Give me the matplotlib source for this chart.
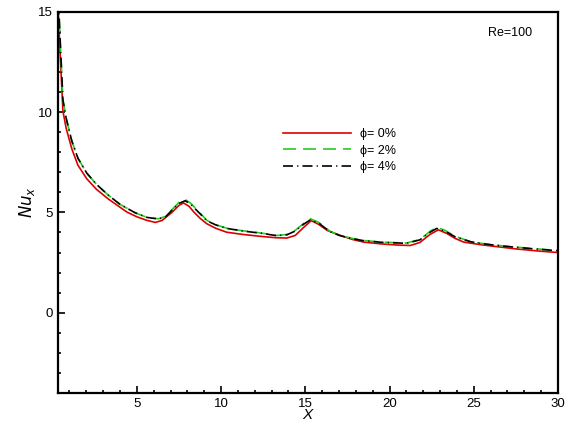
import matplotlib.pyplot as plt
from matplotlib.ticker import MultipleLocator

plt.rcParams['font.family'] = ['Liberation Sans', 'DejaVu Sans']

# values
x0 = [0.33, 0.45, 0.61, 0.8, 1.14, 1.5, 2.03, 2.6, 3.3, 4.4, 5.0, 5.6, 6.1, 6.5, 7.08,
      7.5, 7.77, 8.1, 8.4, 8.76, 9.16, 9.7, 10.34, 11.3, 12.3, 13.2, 13.9, 14.4, 14.9,
      15.35, 15.8, 16.3, 17.07, 17.8, 18.46, 19.5, 20.5, 21.23, 21.8, 22.4, 22.9, 23.4,
      23.9, 24.4, 25.5, 26.5, 27.5, 28.9, 30.0]
nu0 = [15.0, 12.8, 10.05, 9.2, 8.16, 7.35, 6.67, 6.15, 5.67, 5.02, 4.78, 4.6, 4.5, 4.6, 5.0,
       5.35, 5.47, 5.3, 5.0, 4.7, 4.43, 4.2, 4.01, 3.9, 3.81, 3.74, 3.72, 3.85, 4.25,
       4.59, 4.4, 4.1, 3.85, 3.65, 3.52, 3.43, 3.37, 3.35, 3.5, 3.9, 4.13, 3.95,
       3.7, 3.52, 3.38, 3.28, 3.18, 3.07, 3.0]

x2 = [0.33, 0.45, 0.61, 0.8, 1.14, 1.5, 2.03, 2.6, 3.3, 4.0, 4.9, 5.6, 6.28, 6.7, 7.1,
      7.5, 7.87, 8.2, 8.6, 9.16, 9.7, 10.34, 11.3, 12.3, 13.3, 13.9, 14.4, 14.9, 15.3,
      15.8, 16.48, 17.07, 17.8, 18.46, 19.5, 21.0, 21.8, 22.4, 22.8, 23.3, 23.9, 24.8,
      25.5, 26.5, 27.5, 28.75, 30.0]
nu2 = [15.8, 13.5, 10.6, 9.7, 8.55, 7.7, 6.95, 6.4, 5.86, 5.4, 4.98, 4.75, 4.68, 4.8, 5.15,
       5.5, 5.64, 5.45, 5.1, 4.6, 4.38, 4.21, 4.08, 3.98, 3.85, 3.9, 4.1, 4.45, 4.68,
       4.5, 4.05, 3.85, 3.7, 3.6, 3.52, 3.47, 3.65, 4.05, 4.26, 4.1, 3.8, 3.55,
       3.45, 3.35, 3.27, 3.18, 3.1]

x4 = x2
nu4 = [15.8, 13.5, 10.6, 9.7, 8.55, 7.7, 6.95, 6.4, 5.86, 5.4, 4.98, 4.75, 4.67, 4.78, 5.12,
       5.45, 5.58, 5.4, 5.06, 4.58, 4.37, 4.2, 4.07, 3.97, 3.84, 3.88, 4.07, 4.41, 4.63,
       4.46, 4.03, 3.84, 3.69, 3.59, 3.51, 3.46, 3.63, 4.01, 4.2, 4.06, 3.78, 3.54,
       3.44, 3.34, 3.26, 3.17, 3.09]

fig = plt.figure(figsize=(5.69, 4.21), dpi=100)
ax = fig.add_axes([57.7/569, 1-393/421, (558-57.7)/569, (393-11.7)/421])

ax.plot(x0, nu0, color='#dd0000', lw=1.2, label='\u03d5= 0%')
ax.plot(x2, nu2, color='#22cc22', lw=1.2, ls=(0, (7.8, 4.2)), label='\u03d5= 2%')
ax.plot(x4, nu4, color='black', lw=1.2, ls=(0, (6, 2.5, 0.7, 2.5)), label='\u03d5= 4%')

ax.set_xlim(0.3, 30)
ax.set_ylim(-4, 15)
ax.xaxis.set_major_locator(MultipleLocator(5))
ax.xaxis.set_minor_locator(MultipleLocator(1))
ax.yaxis.set_major_locator(MultipleLocator(5))
ax.yaxis.set_minor_locator(MultipleLocator(1))
ax.tick_params(which='both', direction='in', top=False, right=False, labelsize=9.5, width=1.2)
ax.tick_params(which='major', length=5)
ax.tick_params(which='minor', length=2.5)
for s in ax.spines.values():
    s.set_linewidth(1.6)

ax.set_xlabel('X', style='italic', fontsize=11, labelpad=-1)
ax.set_ylabel('$Nu_x$', fontsize=12, labelpad=1)
ax.text(0.904, 0.944, 'Re=100', fontsize=9, ha='center', va='center',
        transform=ax.transAxes)

ax.legend(loc='upper left', bbox_to_anchor=((283-57.7)/500.3, 0.695),
          frameon=False, fontsize=9, handlelength=5.4, handletextpad=0.8,
          labelspacing=0.38, borderpad=0, borderaxespad=0)

plt.savefig('out.png', dpi=100)
